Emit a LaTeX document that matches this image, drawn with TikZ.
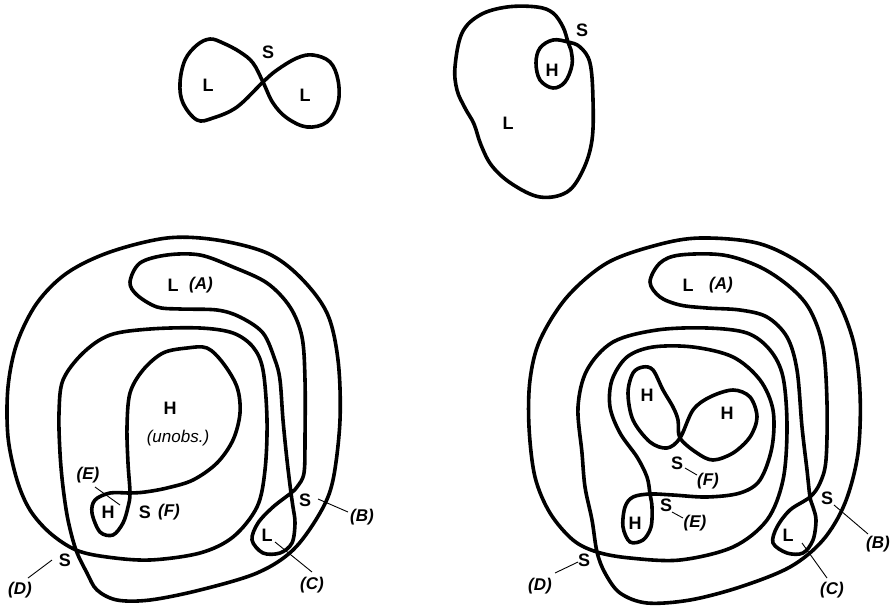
\documentclass[tikz,border=0pt]{standalone}
\usepackage{fontspec}
\setmainfont{Liberation Sans}
\begin{document}
\begin{tikzpicture}[x=1pt,y=-1pt,
  curve/.style={line width=3.6pt,line join=round,line cap=round},
  lbl/.style={font=\fontsize{18}{20}\selectfont\bfseries,inner sep=0pt},
  tag/.style={font=\fontsize{17}{19}\selectfont\bfseries\itshape,inner sep=0pt},
  note/.style={font=\fontsize{17}{19}\selectfont\itshape,inner sep=0pt},
  leader/.style={line width=0.9pt}]
\useasboundingbox (0,0) rectangle (891,608);

% ---------- top left: figure eight ----------
\draw[curve] plot[smooth cycle,tension=0.6] coordinates {
  (263,82) (253,63) (240,52) (223,43) (210,39) (197,45) (185,60) (180,83)
  (183,103) (197,120) (213,118) (237,107)
  (263,82) (277,70) (297,58) (313,55) (330,62) (338,80) (338,103)
  (327,122) (307,127) (287,118) (273,103)};
\node[lbl] (tlS) at (268,52) {S};
\node[lbl] (tlL1) at (208,85) {L};
\node[lbl] (tlL2) at (305,95) {L};

% ---------- top right: loop with inner H ----------
\draw[curve] plot[smooth cycle,tension=0.6] coordinates {
  (568,42) (563,27) (553,13) (537,7) (507,7) (480,15) (462,33) (455,67)
  (457,90) (465,108) (474,124) (481,145) (492,166) (512,184) (540,197) (567,192)
  (583,170) (592,140) (593,100) (590,63) (580,47)
  (568,42) (553,40) (540,48) (536,63) (540,80) (553,88) (565,82) (572,65) (571,50)};
\node[lbl] (trS) at (582,30) {S};
\node[lbl] (trH) at (552,70) {H};
\node[lbl] (trL) at (508,123) {L};

% ---------- bottom left ----------
% outer and middle contours, self-crossing at (D)
\draw[curve] plot[smooth cycle,tension=0.55] coordinates {
  (76,550) (50,533) (30,510) (17,480) (8,437) (8,387) (17,343) (37,303)
  (67,273) (110,252) (167,238) (217,240) (267,253) (300,277) (327,313)
  (338,360) (340,420) (333,480) (320,513) (293,550) (257,573) (200,590)
  (150,600) (117,600) (97,590) (87,573)
  (76,550) (68,520) (63,487) (60,453) (59,413) (63,380) (83,353) (110,335)
  (150,329) (200,328) (233,333) (253,347) (263,370) (267,420) (265,470)
  (257,507) (233,537) (200,553) (150,560) (107,557)};
% L (A) contour with the small L (C) loop, crossing at (B)
\draw[curve] plot[smooth cycle,tension=0.55] coordinates {
  (130,282) (140,263) (167,255) (200,255) (233,267) (267,283) (290,307)
  (302,337) (305,380) (305,437) (304,473) (297,487)
  (291,493) (273,507) (258,523) (252,540) (263,553) (280,553) (292,543)
  (295,523) (293,507)
  (291,493) (287,460) (283,420) (280,380) (275,360) (263,333) (240,317)
  (217,310) (180,309) (157,307) (137,295)};
% H (unobs.) contour with the small H loop, crossing at (F)
\draw[curve] plot[smooth cycle,tension=0.55] coordinates {
  (130,493) (128,463) (127,427) (130,393) (143,370) (163,353) (187,348)
  (207,348) (223,363) (237,387) (240,413) (233,440) (217,463) (193,480)
  (167,488) (145,492)
  (130,493) (110,493) (95,500) (92,513) (100,532) (113,535) (123,523) (128,507)};
\node[lbl] (blLA) at (173,285) {L};
\node[tag] (blA) at (201,285) {(A)};
\node[lbl] (blH) at (170,408) {H};
\node[note] (blU) at (178,438) {(unobs.)};
\node[tag] (blE) at (88,475) {(E)};
\node[lbl] (blHE) at (108,512) {H};
\node[lbl] (blSF) at (145,512) {S};
\node[tag] (blF) at (169,512) {(F)};
\node[lbl] (blSB) at (305,500) {S};
\node[tag] (blB) at (362,517) {(B)};
\node[lbl] (blLC) at (267,535) {L};
\node[tag] (blC) at (312,585) {(C)};
\node[lbl] (blSD) at (65,560) {S};
\node[tag] (blD) at (20,590) {(D)};
\draw[leader] (95,487) -- (120,505);
\draw[leader] (318,499) -- (348,512);
\draw[leader] (275,542) -- (312,572);
\draw[leader] (52,560) -- (28,578);

% ---------- bottom right ----------
% outer and middle contours, self-crossing at (D)
\draw[curve] plot[smooth cycle,tension=0.55] coordinates {
  (597,552) (573,540) (550,513) (535,477) (529,427) (530,380) (540,340)
  (567,297) (607,263) (657,245) (700,238) (757,243) (800,263) (833,293)
  (853,340) (860,393) (858,453) (845,503) (823,540) (790,567) (740,587)
  (690,600) (647,603) (620,593) (605,573)
  (597,552) (592,520) (585,487) (582,453) (578,407) (587,370) (613,342)
  (657,330) (707,328) (747,333) (770,350) (783,377) (787,427) (783,480)
  (767,520) (733,547) (680,560) (630,558)};
% L (A) contour with the small L (C) loop, crossing at (B)
\draw[curve] plot[smooth cycle,tension=0.55] coordinates {
  (650,282) (660,263) (680,255) (723,255) (760,267) (790,287) (810,310)
  (823,347) (827,403) (826,460) (820,483)
  (810,497) (790,510) (777,527) (773,543) (787,553) (803,553) (813,540)
  (816,520) (813,507)
  (810,497) (807,470) (802,427) (797,370) (787,337) (767,317) (740,310)
  (707,308) (680,305) (660,297)};
% contour around the two H regions with the small H loop, crossing at (E)
\draw[curve] plot[smooth cycle,tension=0.55] coordinates {
  (650,494) (647,477) (637,457) (620,433) (610,407) (612,380) (627,357)
  (653,347) (693,347) (733,357) (760,380) (773,410) (772,447) (760,480)
  (740,493) (707,497) (673,495)
  (650,494) (633,497) (625,507) (623,527) (630,542) (643,540) (651,527) (652,507)};
% figure eight of the two H regions, crossing at (F)
\draw[curve] plot[smooth cycle,tension=0.55] coordinates {
  (680,438) (678,420) (673,407) (663,390) (653,370) (643,367) (633,373)
  (628,393) (633,420) (650,442) (667,448)
  (680,438) (693,410) (710,397) (733,390) (750,397) (757,417) (750,437)
  (733,453) (713,460) (697,453)};
\node[lbl] (brLA) at (688,285) {L};
\node[tag] (brA) at (721,285) {(A)};
\node[lbl] (brH1) at (647,395) {H};
\node[lbl] (brH2) at (727,413) {H};
\node[lbl] (brSF) at (677,463) {S};
\node[tag] (brF) at (708,481) {(F)};
\node[lbl] (brSE) at (666,505) {S};
\node[tag] (brE) at (695,523) {(E)};
\node[lbl] (brHE) at (635,523) {H};
\node[lbl] (brSB) at (827,498) {S};
\node[tag,anchor=east] (brB) at (890,544) {(B)};
\node[lbl] (brLC) at (788,535) {L};
\node[tag] (brC) at (832,590) {(C)};
\node[lbl] (brSD) at (584,560) {S};
\node[tag] (brD) at (540,586) {(D)};
\draw[leader] (685,468) -- (697,475);
\draw[leader] (672,512) -- (683,518);
\draw[leader] (834,505) -- (868,534);
\draw[leader] (802,543) -- (827,578);
\draw[leader] (578,562) -- (555,573);
\end{tikzpicture}
\end{document}
